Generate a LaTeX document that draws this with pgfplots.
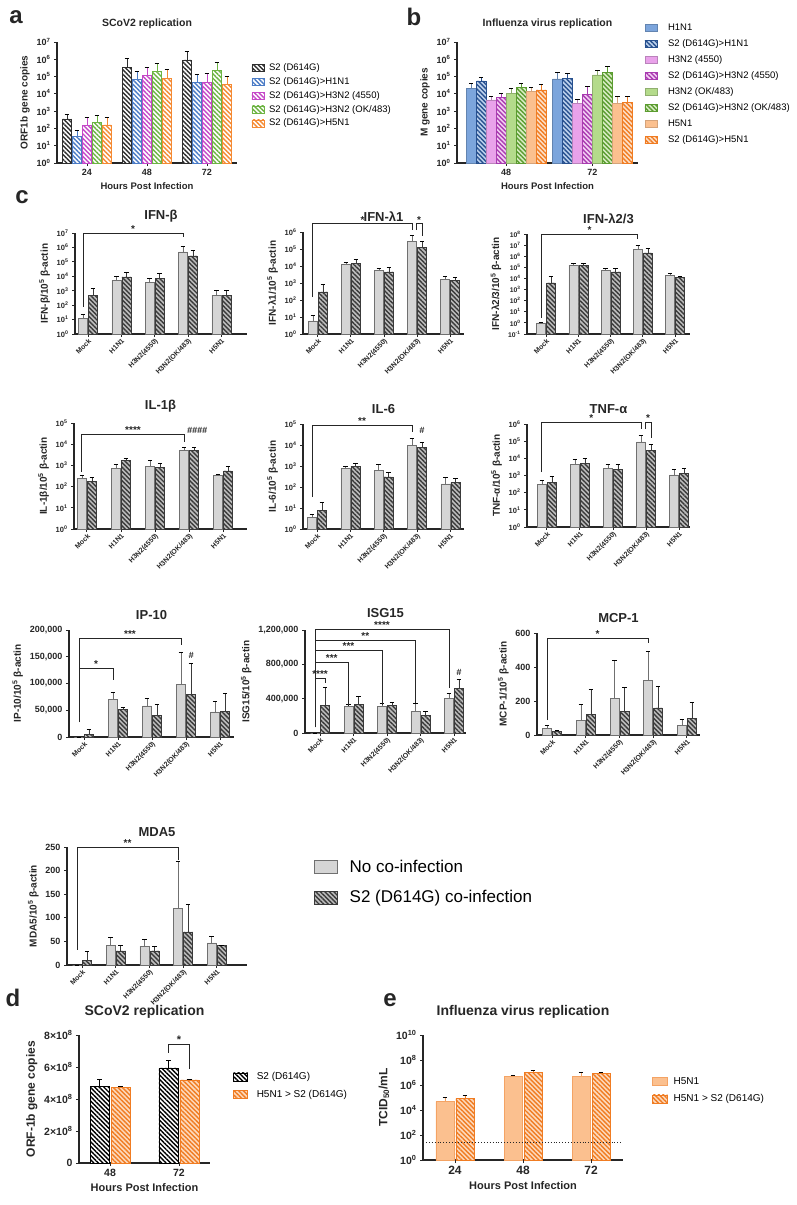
\documentclass[border=0pt]{standalone}
\usepackage{pgfplots}
\pgfplotsset{compat=1.18}
\usepackage{pgfplotstable}
\usepackage{fontspec}
\setmainfont{Liberation Sans}
\usetikzlibrary{patterns.meta}

\definecolor{ink}{HTML}{262626}
\definecolor{aBlack}{HTML}{2E2E2E}
\definecolor{aBlue}{HTML}{4A7BC6}
\definecolor{aMag}{HTML}{C548C8}
\definecolor{aGreen}{HTML}{6DB443}
\definecolor{aOrange}{HTML}{F58A33}
\definecolor{bBlueL}{HTML}{7CA5DC}
\definecolor{bBlueD}{HTML}{27508F}
\definecolor{bMagL}{HTML}{E9A2EA}
\definecolor{bMagD}{HTML}{A93BB0}
\definecolor{bGrnL}{HTML}{B4DB8B}
\definecolor{bGrnD}{HTML}{5B9C30}
\definecolor{bOrL}{HTML}{FBC08F}
\definecolor{bOrD}{HTML}{F07C22}
\definecolor{cGrey}{HTML}{D5D5D5}
\definecolor{cGreyLn}{HTML}{707070}
\definecolor{cDark}{HTML}{3A3A3A}
\definecolor{cHatch}{HTML}{BDBDBD}

\newcommand{\fs}[1]{\fontsize{#1}{#1}\selectfont}

\pgfplotsset{
  mysolid/.style 2 args={draw=#1, line width=0.5pt, fill=#2,
    /pgfplots/error bars/error bar style={draw=#1, line width=0.6pt}},
  myhatch/.style 2 args={draw=#1, line width=0.5pt, fill=#2,
    postaction={pattern={Lines[angle=-45,distance=3.2pt,line width=1.4pt]}, pattern color=#1},
    /pgfplots/error bars/error bar style={draw=#1, line width=0.6pt}},
  mybase/.style={/pgfplots/scale only axis, /pgfplots/clip=false, /pgfplots/enlargelimits=false,
    /pgfplots/axis x line*=bottom, /pgfplots/axis y line*=left,
    /pgfplots/axis line style={line width=1.1pt, ink},
    /pgfplots/tick align=outside, /pgfplots/major tick length=3pt,
    /pgfplots/tick style={line width=0.9pt, ink},
    /pgfplots/tick label style={font=\fs{9}\bfseries, text=ink},
    /pgfplots/xlabel style={font=\fs{9.5}\bfseries, text=ink},
    /pgfplots/ylabel style={font=\fs{10}\bfseries, text=ink},
    /pgfplots/title style={font=\fs{10.5}\bfseries, text=ink},
    /pgf/number format/fixed, /pgf/number format/precision=0,
    /pgf/number format/assume math mode=true,
    /pgf/number format/1000 sep={,},
    /pgfplots/scaled y ticks=false,
    /pgfplots/error bars/y dir=plus, /pgfplots/error bars/y explicit,
    /pgfplots/error bars/error mark options={rotate=90, mark size=2.3pt, line width=0.6pt},
    /pgfplots/legend cell align=left,
    /pgfplots/legend style={draw=none, fill=none, inner sep=0pt, anchor=north west, font=\fs{9.5}},
  },
  mylogfmt/.style={/pgfplots/yminorticks=false, /pgfplots/log origin y=infty,
    /pgfplots/yticklabel={\pgfmathtruncatemacro\ex{round(\tick/2.302585093)}10\textsuperscript{\ex}}},
  mycyto/.style={mybase, /pgfplots/ybar=1pt, /pgfplots/bar width=9pt,
    /pgfplots/xtick={0,1,2,3,4}, /pgfplots/xticklabels={Mock,H1N1,H3N2(4550),H3N2(OK/483),H5N1},
    /pgfplots/xticklabel style={rotate=45, anchor=north east, inner sep=0.5pt, font=\fs{7}\bfseries},
    /pgfplots/title style={font=\fs{13}\bfseries, yshift=1pt}},
  mygrey/.style={mysolid={cGreyLn}{cGrey}},
  mydark/.style={myhatch={cDark}{cHatch}},
}

\newcommand{\cyto}[1]{%
  \addplot[mygrey] table[x=x, y=g, y error=ge] {#1};
  \addplot[mydark] table[x=x, y=h, y error=he] {#1};}

\newcommand{\brk}[6]{%
  \draw[line width=0.9pt, ink] ([xshift=-5pt]axis cs:#1,#4) -- ([xshift=-5pt]axis cs:#1,#3)
     -- ([xshift=-5pt]axis cs:#2,#3) -- ([xshift=-5pt]axis cs:#2,#5);
  \path ([xshift=-5pt]axis cs:#1,#3) -- node[above=-3pt, font=\fs{10}\bfseries, text=ink] {#6}
     ([xshift=-5pt]axis cs:#2,#3);}

% ---------- data ----------
\pgfplotstableread{
x s2 s2e h1 h1e h3 h3e ok oke h5 h5e
0 360 340 35 42 150 310 230 340 160 300
1 3.5e5 7.2e5 6.9e4 1.4e5 1.2e5 2.3e5 2e5 3.5e5 8.2e4 1.7e5
2 9.4e5 2.06e6 4.4e4 8.6e4 4.8e4 9.8e4 2.3e5 4.6e5 3.4e4 6.6e4
}\tA
\pgfplotstableread{
x a ae b be c ce d de e ee f fe g ge h he
0 2.1e4 1.9e4 5.6e4 3.1e4 4.5e3 2.5e3 6.4e3 4.6e3 1.1e4 1e4 2.4e4 1.6e4 1.4e4 1e4 1.7e4 2.1e4
1 7.3e4 9.7e4 8e4 8e4 2.9e3 2e3 9.6e3 1.64e4 1.25e5 1.15e5 1.7e5 2.1e5 2.9e3 4.1e3 3.2e3 3.8e3
}\tB
\pgfplotstableread{
x g ge h he
0 12 13 500 1000
1 5500 4500 9000 9000
2 4000 3000 7500 9500
3 5e5 7e5 2.6e5 3.4e5
4 500 600 500 600
}\tIFNb
\pgfplotstableread{
x g ge h he
0 6 7 300 500
1 1.2e4 4e3 1.4e4 1.1e4
2 5500 1500 4500 3500
3 2.8e5 3.2e5 1.2e5 1.6e5
4 1700 700 1500 700
}\tIFNla
\pgfplotstableread{
x g ge h he
0 1 0.1 4000 12000
1 1.6e5 0.9e5 1.5e5 1e5
2 5.7e4 2.3e4 4e4 4e4
3 4e6 6e6 2e6 2.7e6
4 2e4 1.2e4 1.3e4 3e3
}\tIFNlb
\pgfplotstableread{
x g ge h he
0 250 100 180 90
1 750 350 1700 400
2 900 800 800 500
3 5000 2000 5000 2000
4 350 50 550 350
}\tIL
\pgfplotstableread{
x g ge h he
0 3.5 1.5 8 10
1 800 200 1000 300
2 600 600 300 200
3 1e4 1e4 8000 6000
4 140 160 160 90
}\tILsix
\pgfplotstableread{
x g ge h he
0 300 250 400 450
1 4500 4500 5000 4500
2 2500 2000 2300 2200
3 9e4 1.3e5 2.8e4 4e4
4 1100 1300 1300 1500
}\tTNF
\pgfplotstableread{
x g ge h he
0 0 0 5000 9000
1 70000 13000 52000 3000
2 58000 14000 40000 22000
3 98000 60000 80000 58000
4 47000 19000 48000 33000
}\tIP
\pgfplotstableread{
x g ge h he
0 0 0 320000 213000
1 313000 23000 336000 94000
2 313000 35000 325000 35000
3 255000 93000 205000 50000
4 406000 58000 522000 104000
}\tISG
\pgfplotstableread{
x g ge h he
0 40 20 20 5
1 85 95 120 150
2 215 225 140 142
3 320 170 160 128
4 55 40 100 90
}\tMCP
\pgfplotstableread{
x g ge h he
0 0 0 10 18
1 42 16 30 12
2 40 15 30 10
3 120 100 70 58
4 47 13 42 0
}\tMDA
\pgfplotstableread{
x k ke o oe
0 4.81e8 0.44e8 4.75e8 0.05e8
1 5.94e8 0.46e8 5.2e8 0.05e8
}\tD
\pgfplotstableread{
x s se h he
0 4.6e4 5.4e4 8.6e4 7.4e4
1 4.6e6 1.7e6 9.7e6 4.3e6
2 5.2e6 4.8e6 8.5e6 2.5e6
}\tE

\begin{document}
\begin{tikzpicture}
\useasboundingbox (0pt,0pt) rectangle (796pt,-1205pt);
\foreach \l/\x/\y in {a/16/-17, b/414/-17, c/22/-197, d/13/-998, e/390/-1000}
  \node[font=\fs{24}\bfseries, text=ink] at (\x pt,\y pt) {\l};

% ---------- a ----------
\begin{axis}[mybase, ymode=log, mylogfmt, at={(57pt,-163pt)}, width=180pt, height=121pt,
  ybar=1pt, bar width=9pt, xmin=-0.5, xmax=2.5, ymin=1, ymax=1e7,
  every axis plot post/.append style={legend image code/.code={\draw[##1] (0pt,-3.5pt) rectangle (12pt,3.5pt);}},
  ytick={1,1e1,1e2,1e3,1e4,1e5,1e6,1e7}, xtick={0,1,2}, xticklabels={24,48,72},
  xlabel={Hours Post Infection}, ylabel={ORF1b gene copies},
  title={SCoV2 replication}, title style={yshift=4pt},
  legend style={at={(1.08,0.84)}, row sep=1.5pt, /tikz/every odd column/.append style={column sep=3pt}}]
\addplot[myhatch={aBlack}{white}] table[x=x,y=s2,y error=s2e]{\tA};
\addplot[myhatch={aBlue}{white}] table[x=x,y=h1,y error=h1e]{\tA};
\addplot[myhatch={aMag}{white}] table[x=x,y=h3,y error=h3e]{\tA};
\addplot[myhatch={aGreen}{white}] table[x=x,y=ok,y error=oke]{\tA};
\addplot[myhatch={aOrange}{white}] table[x=x,y=h5,y error=h5e]{\tA};
\legend{S2 (D614G), S2 (D614G)>H1N1, S2 (D614G)>H3N2 (4550), S2 (D614G)>H3N2 (OK/483), S2 (D614G)>H5N1}
\end{axis}

% ---------- b ----------
\begin{axis}[mybase, ymode=log, mylogfmt, at={(457pt,-163pt)}, width=181pt, height=121pt,
  ybar=0.5pt, bar width=9.5pt, xmin=-0.57, xmax=1.53, ymin=1, ymax=1e7,
  every axis plot post/.append style={legend image code/.code={\draw[##1] (0pt,-3.5pt) rectangle (12pt,3.5pt);}},
  ytick={1,1e1,1e2,1e3,1e4,1e5,1e6,1e7}, xtick={0,1}, xticklabels={48,72},
  xlabel={Hours Post Infection}, ylabel={M gene copies},
  title={Influenza virus replication}, title style={yshift=4pt},
  legend style={at={(1.035,1.17)}, row sep=3.7pt, /tikz/every odd column/.append style={column sep=9pt}}]
\addplot[mysolid={bBlueL!80!black}{bBlueL}] table[x=x,y=a,y error=ae]{\tB};
\addplot[myhatch={bBlueD}{bBlueL!50}] table[x=x,y=b,y error=be]{\tB};
\addplot[mysolid={bMagL!80!black}{bMagL}] table[x=x,y=c,y error=ce]{\tB};
\addplot[myhatch={bMagD}{bMagL!50}] table[x=x,y=d,y error=de]{\tB};
\addplot[mysolid={bGrnL!80!black}{bGrnL}] table[x=x,y=e,y error=ee]{\tB};
\addplot[myhatch={bGrnD}{bGrnL!50}] table[x=x,y=f,y error=fe]{\tB};
\addplot[mysolid={bOrL!85!black}{bOrL}] table[x=x,y=g,y error=ge]{\tB};
\addplot[myhatch={bOrD}{bOrL!50}] table[x=x,y=h,y error=he]{\tB};
\legend{H1N1, S2 (D614G)>H1N1, H3N2 (4550), S2 (D614G)>H3N2 (4550), H3N2 (OK/483), S2 (D614G)>H3N2 (OK/483), H5N1, S2 (D614G)>H5N1}
\end{axis}

% ---------- c, row 1 ----------
\begin{axis}[mycyto, ymode=log, mylogfmt, yticklabel style={font=\fs{7.5}\bfseries},
  at={(75pt,-334pt)}, width=172pt, height=101pt,
  xmin=-0.39, xmax=4.77, ymin=1, ymax=1e7, ytick={1,1e1,1e2,1e3,1e4,1e5,1e6,1e7},
  title={IFN-β}, ylabel={IFN-β/10\textsuperscript{5} β-actin}]
\cyto{\tIFNb}
\brk{0}{3}{1e7}{80}{5e6}{*}
\end{axis}

\begin{axis}[mycyto, ymode=log, mylogfmt, yticklabel style={font=\fs{7.5}\bfseries},
  at={(303pt,-334pt)}, width=161pt, height=102pt,
  xmin=-0.45, xmax=4.42, ymin=1, ymax=1e6, ytick={1,1e1,1e2,1e3,1e4,1e5,1e6},
  title={IFN-λ1}, ylabel={IFN-λ1/10\textsuperscript{5} β-actin}]
\cyto{\tIFNla}
\brk{0}{3}{3e6}{150}{1.3e6}{*}
\draw[line width=0.9pt, ink] ([xshift=-1pt]axis cs:3,1.3e6) -- ([xshift=-1pt]axis cs:3,3e6)
  -- node[above=-3pt, font=\fs{10}\bfseries] {*} ([xshift=5pt]axis cs:3,3e6) -- ([xshift=5pt]axis cs:3,6e5);
\end{axis}

\begin{axis}[mycyto, ymode=log, mylogfmt, yticklabel style={font=\fs{6.8}\bfseries},
  at={(527pt,-334pt)}, width=163pt, height=100pt,
  xmin=-0.59, xmax=4.46, ymin=0.1, ymax=1e8, ytick={0.1,1,1e1,1e2,1e3,1e4,1e5,1e6,1e7,1e8},
  title={IFN-λ2/3}, ylabel={IFN-λ2/3/10\textsuperscript{5} β-actin}]
\cyto{\tIFNlb}
\brk{0}{3}{1e8}{3}{3.5e7}{*}
\end{axis}

% ---------- c, row 2 ----------
\begin{axis}[mycyto, ymode=log, mylogfmt, yticklabel style={font=\fs{7.5}\bfseries},
  at={(74pt,-529pt)}, width=173pt, height=106pt,
  xmin=-0.38, xmax=4.7, ymin=1, ymax=1e5, ytick={1,1e1,1e2,1e3,1e4,1e5},
  title={IL-1β}, ylabel={IL-1β/10\textsuperscript{5} β-actin}]
\cyto{\tIL}
\brk{0}{3}{3e4}{500}{1.26e4}{****}
\node[font=\fs{9}\bfseries\itshape, text=ink, above] at ([xshift=8pt]axis cs:3,2.2e4) {\#\#\#\#};
\end{axis}

\begin{axis}[mycyto, ymode=log, mylogfmt, yticklabel style={font=\fs{7.5}\bfseries},
  at={(303pt,-529pt)}, width=161pt, height=105pt,
  xmin=-0.42, xmax=4.41, ymin=1, ymax=1e5, ytick={1,1e1,1e2,1e3,1e4,1e5},
  title={IL-6}, ylabel={IL-6/10\textsuperscript{5} β-actin}]
\cyto{\tILsix}
\brk{0}{3}{9e4}{33}{4e4}{**}
\node[font=\fs{9}\bfseries\itshape, text=ink, above] at ([xshift=5pt]axis cs:3,2.5e4) {\#};
\end{axis}

\begin{axis}[mycyto, ymode=log, mylogfmt, yticklabel style={font=\fs{7.5}\bfseries},
  at={(527pt,-527pt)}, width=163pt, height=103pt,
  xmin=-0.6, xmax=4.33, ymin=1, ymax=1e6, ytick={1,1e1,1e2,1e3,1e4,1e5,1e6},
  title={TNF-α}, ylabel={TNF-α/10\textsuperscript{5} β-actin}]
\cyto{\tTNF}
\brk{0}{3}{1.3e6}{1.6e3}{5e5}{*}
\draw[line width=0.9pt, ink] ([xshift=-1pt]axis cs:3,5e5) -- ([xshift=-1pt]axis cs:3,1.3e6)
  -- node[above=-3pt, font=\fs{10}\bfseries] {*} ([xshift=5pt]axis cs:3,1.3e6) -- ([xshift=5pt]axis cs:3,1.6e5);
\end{axis}

% ---------- c, row 3 ----------
\begin{axis}[mycyto, at={(69pt,-737pt)}, width=165pt, height=107pt,
  xmin=-0.44, xmax=4.41, ymin=0, ymax=200000, ytick={0,50000,100000,150000,200000},
  title={IP-10}, ylabel={IP-10/10\textsuperscript{5} β-actin}]
\cyto{\tIP}
\brk{0}{3}{185000}{28000}{172000}{***}
\brk{0}{1}{129000}{28000}{107000}{*}
\node[font=\fs{9}\bfseries\itshape, text=ink, above] at ([xshift=5pt]axis cs:3,140000) {\#};
\end{axis}

\begin{axis}[mycyto, at={(305pt,-733pt)}, width=161pt, height=103pt,
  xmin=-0.45, xmax=4.36, ymin=0, ymax=1200000, ytick={0,400000,800000,1200000},
  title={ISG15}, title style={yshift=2pt}, ylabel={ISG15/10\textsuperscript{5} β-actin}]
\cyto{\tISG}
\brk{0}{4}{1206000}{70000}{522000}{****}
\brk{0}{3}{1078000}{70000}{348000}{**}
\brk{0}{2}{962000}{70000}{325000}{***}
\brk{0}{1}{823000}{70000}{313000}{***}
\draw[line width=0.9pt, ink] ([xshift=-5pt]axis cs:0,638000)
  -- node[above=-3pt, font=\fs{10}\bfseries] {****} ([xshift=5pt]axis cs:0,638000) -- ([xshift=5pt]axis cs:0,580000);
\node[font=\fs{9}\bfseries\itshape, text=ink, above] at ([xshift=5pt]axis cs:4,630000) {\#};
\end{axis}

\begin{axis}[mycyto, at={(537pt,-735pt)}, width=163pt, height=102pt,
  xmin=-0.45, xmax=4.39, ymin=0, ymax=600, ytick={0,200,400,600},
  title={MCP-1}, ylabel={MCP-1/10\textsuperscript{5} β-actin}]
\cyto{\tMCP}
\brk{0}{3}{570}{88}{540}{*}
\end{axis}

% ---------- c, MDA5 + legend ----------
\begin{axis}[mycyto, at={(67pt,-965pt)}, width=180pt, height=118pt,
  xmin=-0.45, xmax=4.9, ymin=0, ymax=250, ytick={0,50,100,150,200,250},
  title={MDA5}, ylabel={MDA5/10\textsuperscript{5} β-actin},
  every axis plot post/.append style={legend image code/.code={\draw[##1] (0pt,-6.5pt) rectangle (23pt,6.5pt);}},
  legend style={at={(1.372,0.91)}, font=\fs{17}, row sep=13pt, /tikz/every odd column/.append style={column sep=10pt}}]
\addplot[mygrey] table[x=x, y=g, y error=ge] {\tMDA};
\addplot[mydark] table[x=x, y=h, y error=he] {\tMDA};
\brk{0}{3}{250}{32}{222}{**}
\legend{No co-infection, S2 (D614G) co-infection}
\end{axis}

% ---------- d ----------
\begin{axis}[mybase, at={(79pt,-1163pt)}, width=131pt, height=128pt,
  ybar=2pt, bar width=19pt, xmin=-0.45, xmax=1.45, ymin=0, ymax=8e8,
  every axis plot post/.append style={legend image code/.code={\draw[##1] (0pt,-4pt) rectangle (14pt,4pt);}},
  tick label style={font=\fs{10.5}\bfseries},
  xtick={0,1}, xticklabels={48,72}, ytick={0,2e8,4e8,6e8,8e8},
  yticklabels={0, 2×10\textsuperscript{8}, 4×10\textsuperscript{8}, 6×10\textsuperscript{8}, 8×10\textsuperscript{8}},
  xlabel={Hours Post Infection}, ylabel={ORF-1b gene copies},
  xlabel style={font=\fs{11}\bfseries}, ylabel style={font=\fs{12}\bfseries},
  title={SCoV2 replication}, title style={font=\fs{14}\bfseries, yshift=7pt},
  legend style={at={(1.176,0.725)}, row sep=5pt, font=\fs{10}, /tikz/every odd column/.append style={column sep=7pt}}]
\addplot[myhatch={black}{white}] table[x=x,y=k,y error=ke]{\tD};
\addplot[myhatch={bOrD}{bOrL!60}] table[x=x,y=o,y error=oe]{\tD};
\draw[line width=0.9pt, ink] ([xshift=-10.5pt]axis cs:1,6.9e8) -- ([xshift=-10.5pt]axis cs:1,7.4e8)
  -- node[above=-3pt, font=\fs{11}\bfseries] {*} ([xshift=10.5pt]axis cs:1,7.4e8) -- ([xshift=10.5pt]axis cs:1,5.9e8);
\legend{S2 (D614G), H5N1 > S2 (D614G)}
\end{axis}

% ---------- e ----------
\begin{axis}[mybase, ymode=log, mylogfmt, at={(423pt,-1160pt)}, width=200pt, height=125pt,
  ybar=2pt, bar width=18pt, xmin=-0.47, xmax=2.47, ymin=1, ymax=1e10,
  every axis plot post/.append style={legend image code/.code={\draw[##1] (0pt,-4pt) rectangle (15pt,4pt);}},
  tick label style={font=\fs{10.5}\bfseries},
  ytick={1,1e2,1e4,1e6,1e8,1e10}, xtick={0,1,2}, xticklabels={24,48,72},
  xticklabel style={font=\fs{12}\bfseries},
  xlabel={Hours Post Infection}, xlabel style={font=\fs{11}\bfseries},
  ylabel={TCID\textsubscript{50}/mL}, ylabel style={font=\fs{12}\bfseries},
  title={Influenza virus replication}, title style={font=\fs{14}\bfseries, yshift=7pt},
  legend style={at={(1.145,0.68)}, row sep=5pt, font=\fs{10}, /tikz/every odd column/.append style={column sep=4pt}}]
\addplot[mysolid={bOrD!70}{bOrL}] table[x=x,y=s,y error=se]{\tE};
\addplot[myhatch={bOrD}{bOrL!60}] table[x=x,y=h,y error=he]{\tE};
\addplot[sharp plot, dotted, line width=0.9pt, ink, forget plot, error bars/y dir=none]
  coordinates {(-0.47,26) (2.47,26)};
\legend{H5N1, H5N1 > S2 (D614G)}
\end{axis}
\end{tikzpicture}
\end{document}
